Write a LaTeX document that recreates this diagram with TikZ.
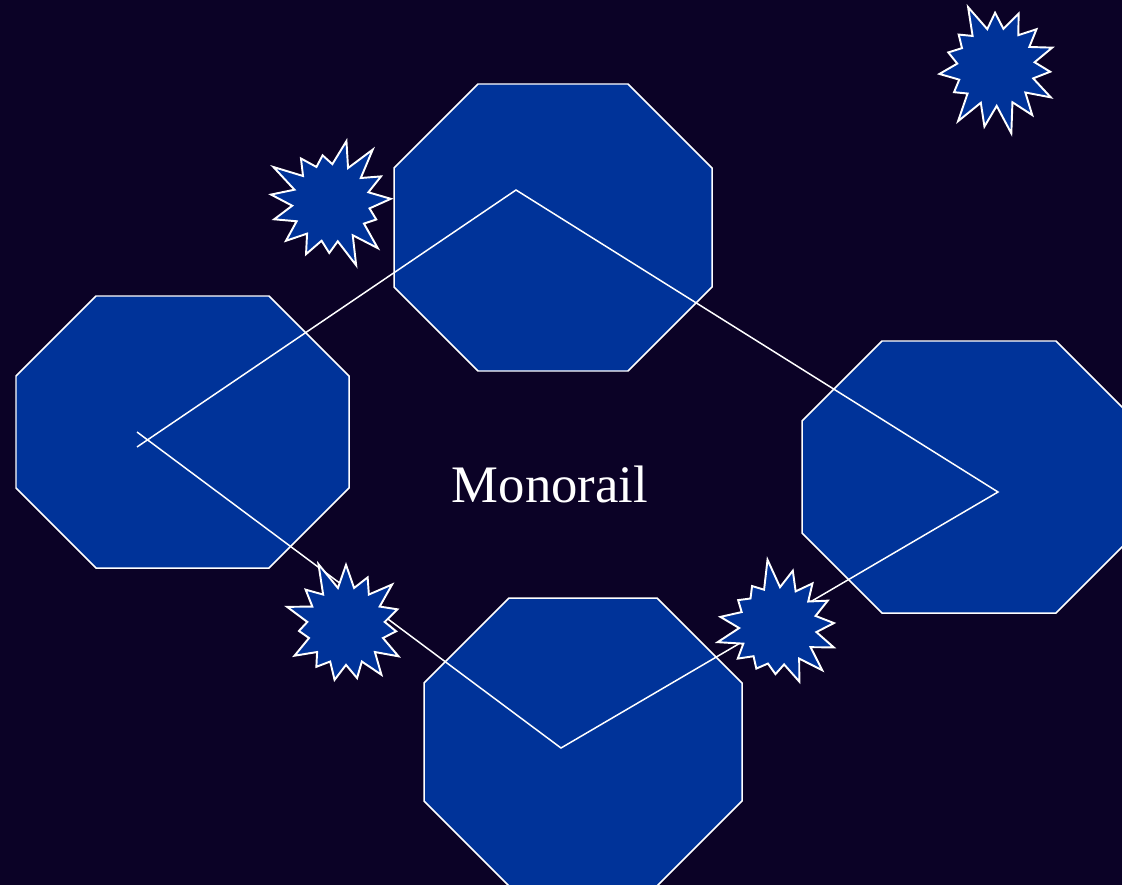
\documentclass[tikz,border=0pt]{standalone}
\usepackage{fontspec}
\setmainfont{Liberation Serif}
\usetikzlibrary{shapes.symbols}
\definecolor{cnight}{HTML}{0B0226}
\definecolor{cblue}{HTML}{003399}
\tikzset{
  every picture/.style={line width=0.85pt},
  station/.style={draw=white, fill=cblue},
  burst/.style={starburst, starburst points=15, starburst point height=0.6cm,
    draw=white, fill=cblue, line width=1.1pt, inner sep=0.55cm},
  rail/.style={draw=white},
}
\begin{document}
\begin{tikzpicture}[x=0.02cm, y=-0.02cm]
  \fill[cnight] (0,0) rectangle (1122,885);
  \useasboundingbox (0,0) rectangle (1122,885);
  % stations: centre, half width, half height, corner cut
  \foreach \cx/\cy/\hw/\hh/\c in {182.5/432/166.5/136/80, 553/227.5/159/143.5/84,
                                  969/477/167/136/80, 583/742/159/144/85} {
    \draw[station] (\cx-\hw+\c,\cy-\hh) -- (\cx+\hw-\c,\cy-\hh) -- (\cx+\hw,\cy-\hh+\c)
      -- (\cx+\hw,\cy+\hh-\c) -- (\cx+\hw-\c,\cy+\hh) -- (\cx-\hw+\c,\cy+\hh)
      -- (\cx-\hw,\cy+\hh-\c) -- (\cx-\hw,\cy-\hh+\c) -- cycle;
  }
  % the track
  \coordinate (westA) at (137,447);
  \coordinate (westB) at (137,432);
  \coordinate (peakN) at (516,190);
  \coordinate (peakE) at (998,492);
  \coordinate (peakS) at (561,748);
  \draw[rail] (westA) -- (peakN) -- (peakE) -- (peakS) -- (westB);
  \node[text=white, font=\fontsize{30}{36}\selectfont] (title) at (550,484) {Monorail};
  % bursts
  \node[burst, random starburst=3, rotate=10] (burstA) at (331,203) {};
  \node[burst, random starburst=7, rotate=25] (burstB) at (996,67) {};
  \node[burst, random starburst=11] (burstC) at (346,626) {};
  \node[burst, random starburst=5, rotate=-15] (burstD) at (778,626) {};
\end{tikzpicture}
\end{document}
